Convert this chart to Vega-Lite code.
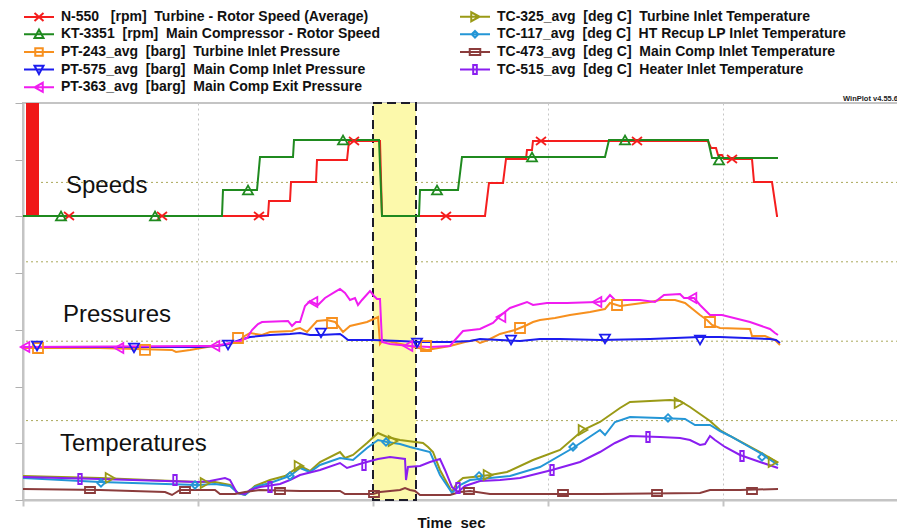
{
  "$schema": "https://vega.github.io/schema/vega-lite/v6.json",
  "width": 875,
  "height": 397,
  "autosize": {"type": "none"},
  "padding": {"left": 23, "top": 103, "right": 0, "bottom": 30},
  "background": "white",
  "config": {
    "view": {"stroke": "#c4c4c4", "strokeWidth": 2},
    "font": "Liberation Sans",
    "axis": {"labels": false}
  },
  "datasets": {
    "lines": [
      {"s":"N-550","t":0,"v":71.54},{"s":"N-550","t":980,"v":71.54},{"s":"N-550","t":984,"v":75.32},{"s":"N-550","t":1068,"v":75.32},{"s":"N-550","t":1072,"v":80.10},{"s":"N-550","t":1172,"v":80.10},{"s":"N-550","t":1176,"v":85.64},{"s":"N-550","t":1296,"v":85.64},{"s":"N-550","t":1304,"v":90.43},{"s":"N-550","t":1428,"v":90.43},{"s":"N-550","t":1436,"v":71.54},{"s":"N-550","t":1848,"v":71.54},{"s":"N-550","t":1864,"v":79.85},{"s":"N-550","t":1920,"v":79.85},{"s":"N-550","t":1932,"v":85.90},{"s":"N-550","t":2012,"v":85.90},{"s":"N-550","t":2016,"v":88.17},{"s":"N-550","t":2036,"v":88.17},{"s":"N-550","t":2040,"v":90.43},{"s":"N-550","t":2740,"v":90.43},{"s":"N-550","t":2752,"v":88.67},{"s":"N-550","t":2772,"v":88.67},{"s":"N-550","t":2780,"v":86.91},{"s":"N-550","t":2796,"v":86.91},{"s":"N-550","t":2804,"v":85.90},{"s":"N-550","t":2916,"v":85.90},{"s":"N-550","t":2924,"v":80.10},{"s":"N-550","t":2996,"v":80.10},{"s":"N-550","t":3016,"v":71.54},{"s":"N-550","t":3020,"v":71.54},
      {"s":"KT-3351","t":0,"v":71.54},{"s":"KT-3351","t":796,"v":71.54},{"s":"KT-3351","t":800,"v":78.09},{"s":"KT-3351","t":936,"v":78.09},{"s":"KT-3351","t":948,"v":86.40},{"s":"KT-3351","t":1080,"v":86.40},{"s":"KT-3351","t":1084,"v":90.68},{"s":"KT-3351","t":1424,"v":90.68},{"s":"KT-3351","t":1436,"v":71.54},{"s":"KT-3351","t":1584,"v":71.54},{"s":"KT-3351","t":1588,"v":78.09},{"s":"KT-3351","t":1740,"v":78.09},{"s":"KT-3351","t":1756,"v":86.40},{"s":"KT-3351","t":2328,"v":86.40},{"s":"KT-3351","t":2344,"v":90.68},{"s":"KT-3351","t":2740,"v":90.68},{"s":"KT-3351","t":2756,"v":86.15},{"s":"KT-3351","t":3020,"v":86.15},
      {"s":"PT-243","t":0,"v":38.29},{"s":"PT-243","t":308,"v":38.29},{"s":"PT-243","t":596,"v":37.79},{"s":"PT-243","t":612,"v":37.28},{"s":"PT-243","t":668,"v":37.79},{"s":"PT-243","t":760,"v":38.79},{"s":"PT-243","t":828,"v":39.30},{"s":"PT-243","t":868,"v":40.05},{"s":"PT-243","t":880,"v":41.06},{"s":"PT-243","t":908,"v":42.07},{"s":"PT-243","t":956,"v":41.56},{"s":"PT-243","t":988,"v":42.32},{"s":"PT-243","t":1076,"v":42.57},{"s":"PT-243","t":1092,"v":43.07},{"s":"PT-243","t":1108,"v":43.33},{"s":"PT-243","t":1136,"v":42.32},{"s":"PT-243","t":1176,"v":45.09},{"s":"PT-243","t":1216,"v":45.34},{"s":"PT-243","t":1248,"v":44.84},{"s":"PT-243","t":1280,"v":42.32},{"s":"PT-243","t":1308,"v":43.83},{"s":"PT-243","t":1376,"v":44.84},{"s":"PT-243","t":1420,"v":46.10},{"s":"PT-243","t":1428,"v":39.30},{"s":"PT-243","t":1440,"v":40.30},{"s":"PT-243","t":1548,"v":38.79},{"s":"PT-243","t":1616,"v":37.79},{"s":"PT-243","t":1708,"v":38.79},{"s":"PT-243","t":1768,"v":39.80},{"s":"PT-243","t":1808,"v":40.30},{"s":"PT-243","t":1828,"v":39.55},{"s":"PT-243","t":1860,"v":40.30},{"s":"PT-243","t":1908,"v":41.82},{"s":"PT-243","t":1968,"v":42.82},{"s":"PT-243","t":2016,"v":44.08},{"s":"PT-243","t":2040,"v":44.84},{"s":"PT-243","t":2068,"v":45.34},{"s":"PT-243","t":2128,"v":45.85},{"s":"PT-243","t":2188,"v":46.60},{"s":"PT-243","t":2268,"v":47.36},{"s":"PT-243","t":2328,"v":48.11},{"s":"PT-243","t":2348,"v":49.62},{"s":"PT-243","t":2388,"v":48.87},{"s":"PT-243","t":2448,"v":49.37},{"s":"PT-243","t":2508,"v":49.88},{"s":"PT-243","t":2548,"v":50.38},{"s":"PT-243","t":2608,"v":50.38},{"s":"PT-243","t":2648,"v":49.62},{"s":"PT-243","t":2708,"v":46.60},{"s":"PT-243","t":2736,"v":45.34},{"s":"PT-243","t":2756,"v":44.08},{"s":"PT-243","t":2788,"v":43.33},{"s":"PT-243","t":2908,"v":43.07},{"s":"PT-243","t":2916,"v":41.31},{"s":"PT-243","t":2968,"v":41.31},{"s":"PT-243","t":3008,"v":40.30},{"s":"PT-243","t":3028,"v":39.04},
      {"s":"PT-575","t":0,"v":38.54},{"s":"PT-575","t":308,"v":38.54},{"s":"PT-575","t":708,"v":38.54},{"s":"PT-575","t":768,"v":38.79},{"s":"PT-575","t":808,"v":39.04},{"s":"PT-575","t":868,"v":40.30},{"s":"PT-575","t":908,"v":41.06},{"s":"PT-575","t":988,"v":41.56},{"s":"PT-575","t":1068,"v":41.82},{"s":"PT-575","t":1108,"v":42.07},{"s":"PT-575","t":1148,"v":41.56},{"s":"PT-575","t":1188,"v":41.56},{"s":"PT-575","t":1268,"v":41.82},{"s":"PT-575","t":1280,"v":41.31},{"s":"PT-575","t":1300,"v":40.30},{"s":"PT-575","t":1400,"v":40.30},{"s":"PT-575","t":1508,"v":40.05},{"s":"PT-575","t":1588,"v":39.80},{"s":"PT-575","t":1708,"v":39.80},{"s":"PT-575","t":1788,"v":40.05},{"s":"PT-575","t":1828,"v":40.56},{"s":"PT-575","t":1908,"v":40.30},{"s":"PT-575","t":1988,"v":40.05},{"s":"PT-575","t":2068,"v":40.56},{"s":"PT-575","t":2148,"v":40.56},{"s":"PT-575","t":2308,"v":40.30},{"s":"PT-575","t":2508,"v":40.56},{"s":"PT-575","t":2708,"v":41.06},{"s":"PT-575","t":2788,"v":41.06},{"s":"PT-575","t":2988,"v":40.56},{"s":"PT-575","t":3012,"v":40.30},{"s":"PT-575","t":3028,"v":39.55},
      {"s":"PT-363","t":0,"v":38.54},{"s":"PT-363","t":708,"v":38.79},{"s":"PT-363","t":768,"v":38.79},{"s":"PT-363","t":868,"v":40.05},{"s":"PT-363","t":896,"v":40.81},{"s":"PT-363","t":916,"v":42.82},{"s":"PT-363","t":940,"v":44.33},{"s":"PT-363","t":956,"v":44.84},{"s":"PT-363","t":1060,"v":45.09},{"s":"PT-363","t":1076,"v":43.83},{"s":"PT-363","t":1092,"v":44.84},{"s":"PT-363","t":1108,"v":44.84},{"s":"PT-363","t":1128,"v":48.87},{"s":"PT-363","t":1148,"v":50.13},{"s":"PT-363","t":1180,"v":49.12},{"s":"PT-363","t":1208,"v":50.88},{"s":"PT-363","t":1248,"v":52.40},{"s":"PT-363","t":1268,"v":53.15},{"s":"PT-363","t":1288,"v":52.14},{"s":"PT-363","t":1308,"v":50.38},{"s":"PT-363","t":1328,"v":50.88},{"s":"PT-363","t":1340,"v":49.12},{"s":"PT-363","t":1356,"v":50.38},{"s":"PT-363","t":1388,"v":52.65},{"s":"PT-363","t":1404,"v":51.39},{"s":"PT-363","t":1416,"v":50.63},{"s":"PT-363","t":1428,"v":50.63},{"s":"PT-363","t":1436,"v":39.80},{"s":"PT-363","t":1468,"v":39.30},{"s":"PT-363","t":1548,"v":38.79},{"s":"PT-363","t":1628,"v":38.54},{"s":"PT-363","t":1708,"v":38.79},{"s":"PT-363","t":1728,"v":40.30},{"s":"PT-363","t":1760,"v":42.57},{"s":"PT-363","t":1828,"v":43.07},{"s":"PT-363","t":1880,"v":44.59},{"s":"PT-363","t":1908,"v":46.35},{"s":"PT-363","t":1948,"v":48.37},{"s":"PT-363","t":2016,"v":49.88},{"s":"PT-363","t":2040,"v":49.12},{"s":"PT-363","t":2096,"v":49.62},{"s":"PT-363","t":2176,"v":49.62},{"s":"PT-363","t":2296,"v":49.88},{"s":"PT-363","t":2328,"v":50.13},{"s":"PT-363","t":2348,"v":51.64},{"s":"PT-363","t":2368,"v":50.38},{"s":"PT-363","t":2468,"v":50.38},{"s":"PT-363","t":2528,"v":49.88},{"s":"PT-363","t":2564,"v":51.64},{"s":"PT-363","t":2628,"v":51.89},{"s":"PT-363","t":2644,"v":50.88},{"s":"PT-363","t":2684,"v":50.88},{"s":"PT-363","t":2708,"v":49.12},{"s":"PT-363","t":2748,"v":46.60},{"s":"PT-363","t":2796,"v":46.60},{"s":"PT-363","t":2908,"v":44.84},{"s":"PT-363","t":2988,"v":43.07},{"s":"PT-363","t":3008,"v":42.07},{"s":"PT-363","t":3020,"v":41.56},
      {"s":"TC-325","t":0,"v":6.05},{"s":"TC-325","t":308,"v":5.54},{"s":"TC-325","t":700,"v":4.53},{"s":"TC-325","t":768,"v":4.53},{"s":"TC-325","t":828,"v":3.78},{"s":"TC-325","t":860,"v":1.76},{"s":"TC-325","t":888,"v":1.26},{"s":"TC-325","t":928,"v":3.53},{"s":"TC-325","t":988,"v":5.04},{"s":"TC-325","t":1048,"v":6.05},{"s":"TC-325","t":1108,"v":8.56},{"s":"TC-325","t":1148,"v":7.31},{"s":"TC-325","t":1188,"v":9.57},{"s":"TC-325","t":1268,"v":12.09},{"s":"TC-325","t":1288,"v":10.58},{"s":"TC-325","t":1320,"v":11.34},{"s":"TC-325","t":1376,"v":14.36},{"s":"TC-325","t":1420,"v":16.88},{"s":"TC-325","t":1456,"v":15.87},{"s":"TC-325","t":1508,"v":15.11},{"s":"TC-325","t":1600,"v":14.36},{"s":"TC-325","t":1620,"v":13.35},{"s":"TC-325","t":1640,"v":12.09},{"s":"TC-325","t":1668,"v":7.56},{"s":"TC-325","t":1696,"v":4.28},{"s":"TC-325","t":1716,"v":2.02},{"s":"TC-325","t":1736,"v":4.28},{"s":"TC-325","t":1760,"v":5.54},{"s":"TC-325","t":1800,"v":5.79},{"s":"TC-325","t":1868,"v":6.30},{"s":"TC-325","t":1936,"v":7.05},{"s":"TC-325","t":2040,"v":10.08},{"s":"TC-325","t":2148,"v":12.60},{"s":"TC-325","t":2240,"v":17.63},{"s":"TC-325","t":2308,"v":19.65},{"s":"TC-325","t":2388,"v":23.17},{"s":"TC-325","t":2428,"v":24.69},{"s":"TC-325","t":2508,"v":24.94},{"s":"TC-325","t":2588,"v":25.19},{"s":"TC-325","t":2628,"v":24.94},{"s":"TC-325","t":2668,"v":23.43},{"s":"TC-325","t":2708,"v":21.66},{"s":"TC-325","t":2748,"v":19.90},{"s":"TC-325","t":2788,"v":17.63},{"s":"TC-325","t":2828,"v":16.12},{"s":"TC-325","t":2948,"v":12.09},{"s":"TC-325","t":2988,"v":10.58},{"s":"TC-325","t":3020,"v":9.32},
      {"s":"TC-117","t":0,"v":5.54},{"s":"TC-117","t":308,"v":4.53},{"s":"TC-117","t":700,"v":3.78},{"s":"TC-117","t":768,"v":4.03},{"s":"TC-117","t":828,"v":3.53},{"s":"TC-117","t":860,"v":1.76},{"s":"TC-117","t":888,"v":1.26},{"s":"TC-117","t":928,"v":3.27},{"s":"TC-117","t":988,"v":4.28},{"s":"TC-117","t":1068,"v":6.05},{"s":"TC-117","t":1108,"v":8.06},{"s":"TC-117","t":1148,"v":7.05},{"s":"TC-117","t":1188,"v":8.82},{"s":"TC-117","t":1268,"v":10.58},{"s":"TC-117","t":1320,"v":10.08},{"s":"TC-117","t":1376,"v":13.10},{"s":"TC-117","t":1420,"v":15.11},{"s":"TC-117","t":1456,"v":14.61},{"s":"TC-117","t":1508,"v":14.11},{"s":"TC-117","t":1548,"v":13.35},{"s":"TC-117","t":1628,"v":12.09},{"s":"TC-117","t":1668,"v":6.30},{"s":"TC-117","t":1716,"v":1.76},{"s":"TC-117","t":1748,"v":3.78},{"s":"TC-117","t":1788,"v":5.04},{"s":"TC-117","t":1828,"v":5.29},{"s":"TC-117","t":1948,"v":6.05},{"s":"TC-117","t":2068,"v":8.31},{"s":"TC-117","t":2200,"v":13.10},{"s":"TC-117","t":2308,"v":17.63},{"s":"TC-117","t":2328,"v":16.37},{"s":"TC-117","t":2368,"v":19.65},{"s":"TC-117","t":2428,"v":20.91},{"s":"TC-117","t":2548,"v":20.66},{"s":"TC-117","t":2648,"v":20.40},{"s":"TC-117","t":2688,"v":18.89},{"s":"TC-117","t":2748,"v":18.89},{"s":"TC-117","t":2788,"v":17.38},{"s":"TC-117","t":2828,"v":16.12},{"s":"TC-117","t":2948,"v":11.84},{"s":"TC-117","t":3020,"v":8.82},
      {"s":"TC-515","t":0,"v":5.79},{"s":"TC-515","t":308,"v":5.29},{"s":"TC-515","t":700,"v":4.53},{"s":"TC-515","t":748,"v":4.79},{"s":"TC-515","t":808,"v":5.54},{"s":"TC-515","t":828,"v":5.04},{"s":"TC-515","t":856,"v":1.76},{"s":"TC-515","t":888,"v":1.51},{"s":"TC-515","t":908,"v":2.52},{"s":"TC-515","t":948,"v":3.27},{"s":"TC-515","t":1028,"v":4.03},{"s":"TC-515","t":1068,"v":5.04},{"s":"TC-515","t":1108,"v":6.30},{"s":"TC-515","t":1188,"v":7.56},{"s":"TC-515","t":1268,"v":9.32},{"s":"TC-515","t":1296,"v":8.06},{"s":"TC-515","t":1360,"v":9.32},{"s":"TC-515","t":1420,"v":10.33},{"s":"TC-515","t":1468,"v":10.83},{"s":"TC-515","t":1528,"v":10.33},{"s":"TC-515","t":1532,"v":5.04},{"s":"TC-515","t":1540,"v":8.31},{"s":"TC-515","t":1588,"v":8.56},{"s":"TC-515","t":1628,"v":9.57},{"s":"TC-515","t":1668,"v":10.33},{"s":"TC-515","t":1688,"v":7.56},{"s":"TC-515","t":1716,"v":3.27},{"s":"TC-515","t":1740,"v":2.02},{"s":"TC-515","t":1768,"v":3.53},{"s":"TC-515","t":1828,"v":4.79},{"s":"TC-515","t":1908,"v":5.04},{"s":"TC-515","t":1988,"v":5.54},{"s":"TC-515","t":2116,"v":7.56},{"s":"TC-515","t":2228,"v":9.57},{"s":"TC-515","t":2308,"v":12.09},{"s":"TC-515","t":2368,"v":14.36},{"s":"TC-515","t":2428,"v":16.12},{"s":"TC-515","t":2548,"v":15.87},{"s":"TC-515","t":2628,"v":15.62},{"s":"TC-515","t":2668,"v":15.11},{"s":"TC-515","t":2708,"v":13.85},{"s":"TC-515","t":2728,"v":14.11},{"s":"TC-515","t":2748,"v":16.12},{"s":"TC-515","t":2768,"v":15.11},{"s":"TC-515","t":2808,"v":13.35},{"s":"TC-515","t":2868,"v":11.34},{"s":"TC-515","t":2948,"v":9.57},{"s":"TC-515","t":3020,"v":8.06},
      {"s":"TC-473","t":0,"v":2.77},{"s":"TC-473","t":308,"v":2.52},{"s":"TC-473","t":568,"v":2.02},{"s":"TC-473","t":596,"v":1.26},{"s":"TC-473","t":628,"v":2.52},{"s":"TC-473","t":768,"v":2.52},{"s":"TC-473","t":788,"v":1.51},{"s":"TC-473","t":848,"v":1.51},{"s":"TC-473","t":888,"v":2.02},{"s":"TC-473","t":948,"v":2.52},{"s":"TC-473","t":1108,"v":2.27},{"s":"TC-473","t":1268,"v":2.27},{"s":"TC-473","t":1288,"v":1.51},{"s":"TC-473","t":1400,"v":1.51},{"s":"TC-473","t":1428,"v":2.02},{"s":"TC-473","t":1508,"v":2.52},{"s":"TC-473","t":1528,"v":3.02},{"s":"TC-473","t":1548,"v":2.52},{"s":"TC-473","t":1568,"v":2.27},{"s":"TC-473","t":1588,"v":1.26},{"s":"TC-473","t":1708,"v":1.26},{"s":"TC-473","t":1748,"v":2.02},{"s":"TC-473","t":1788,"v":2.27},{"s":"TC-473","t":1868,"v":1.51},{"s":"TC-473","t":2308,"v":1.51},{"s":"TC-473","t":2708,"v":1.76},{"s":"TC-473","t":2748,"v":2.52},{"s":"TC-473","t":2868,"v":2.52},{"s":"TC-473","t":3020,"v":2.77}
    ],
    "marks": [
      {"s":"N-550","t":184,"v":71.54},{"s":"N-550","t":556,"v":71.54},{"s":"N-550","t":944,"v":71.54},{"s":"N-550","t":1324,"v":90.43},{"s":"N-550","t":1692,"v":71.54},{"s":"N-550","t":2072,"v":90.43},{"s":"N-550","t":2456,"v":90.43},{"s":"N-550","t":2836,"v":85.90},
      {"s":"KT-3351","t":152,"v":71.54},{"s":"KT-3351","t":528,"v":71.54},{"s":"KT-3351","t":900,"v":78.09},{"s":"KT-3351","t":1280,"v":90.68},{"s":"KT-3351","t":1656,"v":78.09},{"s":"KT-3351","t":2036,"v":86.40},{"s":"KT-3351","t":2408,"v":90.68},{"s":"KT-3351","t":2784,"v":85.64},
      {"s":"PT-243","t":60,"v":38.29},{"s":"PT-243","t":488,"v":37.79},{"s":"PT-243","t":860,"v":40.81},{"s":"PT-243","t":1236,"v":44.59},{"s":"PT-243","t":1612,"v":38.79},{"s":"PT-243","t":1988,"v":43.33},{"s":"PT-243","t":2376,"v":49.12},{"s":"PT-243","t":2748,"v":44.84},
      {"s":"PT-575","t":56,"v":38.79},{"s":"PT-575","t":444,"v":38.29},{"s":"PT-575","t":820,"v":39.04},{"s":"PT-575","t":1192,"v":42.07},{"s":"PT-575","t":1576,"v":39.55},{"s":"PT-575","t":1952,"v":40.30},{"s":"PT-575","t":2328,"v":40.56},{"s":"PT-575","t":2708,"v":40.30},
      {"s":"PT-363","t":8,"v":38.54},{"s":"PT-363","t":384,"v":38.29},{"s":"PT-363","t":768,"v":38.79},{"s":"PT-363","t":1160,"v":49.88},{"s":"PT-363","t":1540,"v":38.79},{"s":"PT-363","t":1912,"v":46.10},{"s":"PT-363","t":2296,"v":49.88},{"s":"PT-363","t":2676,"v":50.88},
      {"s":"TC-325","t":348,"v":5.54},{"s":"TC-325","t":728,"v":4.28},{"s":"TC-325","t":1104,"v":8.56},{"s":"TC-325","t":1480,"v":14.86},{"s":"TC-325","t":1860,"v":6.30},{"s":"TC-325","t":2240,"v":17.63},{"s":"TC-325","t":2624,"v":24.43},{"s":"TC-325","t":3000,"v":9.57},
      {"s":"TC-117","t":312,"v":4.28},{"s":"TC-117","t":688,"v":3.78},{"s":"TC-117","t":1068,"v":6.05},{"s":"TC-117","t":1452,"v":14.61},{"s":"TC-117","t":1824,"v":6.05},{"s":"TC-117","t":2200,"v":13.35},{"s":"TC-117","t":2580,"v":20.66},{"s":"TC-117","t":2956,"v":10.83},
      {"s":"TC-473","t":268,"v":2.52},{"s":"TC-473","t":648,"v":2.52},{"s":"TC-473","t":1028,"v":2.27},{"s":"TC-473","t":1404,"v":1.51},{"s":"TC-473","t":1784,"v":2.27},{"s":"TC-473","t":2160,"v":1.76},{"s":"TC-473","t":2536,"v":1.76},{"s":"TC-473","t":2916,"v":2.27},
      {"s":"TC-515","t":228,"v":5.29},{"s":"TC-515","t":608,"v":5.04},{"s":"TC-515","t":988,"v":3.27},{"s":"TC-515","t":1364,"v":8.82},{"s":"TC-515","t":1740,"v":3.02},{"s":"TC-515","t":2116,"v":7.56},{"s":"TC-515","t":2500,"v":15.87},{"s":"TC-515","t":2876,"v":11.08}
    ]
  },
  "resolve": {"scale": {"shape": "independent"}},
  "layer": [
    {
      "data": {"values": [{"g": 20}, {"g": 40}, {"g": 60}, {"g": 80}]},
      "mark": {"type": "rule", "stroke": "#aaa85a", "strokeDash": [2, 3], "strokeWidth": 1},
      "encoding": {
        "y": {"field": "g", "type": "quantitative", "scale": {"domain": [0, 100], "nice": false, "zero": false},
          "axis": {"values": [0, 14.2857, 28.5714, 42.8571, 57.1429, 71.4286, 85.7143, 100], "title": null, "grid": false, "domainColor": "#c4c4c4", "domainWidth": 2, "tickColor": "#b0b0b0", "tickSize": 8, "tickWidth": 1}}
      }
    },
    {
      "data": {"values": [{"t0": 1400, "t1": 1572}]},
      "mark": {"type": "rect", "fill": "#fcf9ab", "stroke": "#1c1c2a", "strokeWidth": 2, "strokeDash": [9, 5]},
      "encoding": {
        "x": {"field": "t0", "type": "quantitative", "scale": {"domain": [0, 3500], "nice": false, "zero": false},
          "axis": {"values": [0, 700, 1400, 2100, 2800], "title": "Time\u00a0 sec", "grid": true, "gridColor": "#c6c6c6", "gridDash": [2, 3], "gridWidth": 1, "domainColor": "#c4c4c4", "domainWidth": 2, "tickColor": "#c4c4c4", "tickSize": 6, "tickWidth": 2, "titleFont": "Liberation Sans", "titleFontSize": 15, "titleFontWeight": "bold", "titleColor": "#111", "titleX": 428, "titleY": 27, "titleAlign": "center", "titleBaseline": "alphabetic", "titleAnchor": null}},
        "x2": {"field": "t1"},
        "y": {"datum": 0},
        "y2": {"datum": 100}
      }
    },
    {
      "data": {"values": [{"t0": 12, "t1": 64, "v0": 71.54, "v1": 100}]},
      "mark": {"type": "rect", "fill": "#f01818"},
      "encoding": {
        "x": {"field": "t0", "type": "quantitative"},
        "x2": {"field": "t1"},
        "y": {"field": "v0", "type": "quantitative"},
        "y2": {"field": "v1"}
      }
    },
    {
      "data": {"name": "lines"},
      "mark": {"type": "line", "strokeWidth": 2, "interpolate": "linear"},
      "encoding": {
        "x": {"field": "t", "type": "quantitative"},
        "y": {"field": "v", "type": "quantitative"},
        "stroke": {"field": "s", "type": "nominal", "legend": null,
          "scale": {"domain": ["N-550", "KT-3351", "PT-243", "PT-575", "PT-363", "TC-325", "TC-117", "TC-473", "TC-515"],
            "range": ["#f51e1e", "#1f8a1f", "#f7901e", "#1c1cee", "#f01cf0", "#9a9a16", "#2496d6", "#8b3c3c", "#8a1ef0"]}}
      }
    },
    {
      "data": {"name": "marks"},
      "mark": {"type": "point", "filled": false, "size": 100, "strokeWidth": 1.8, "opacity": 1},
      "encoding": {
        "x": {"field": "t", "type": "quantitative"},
        "y": {"field": "v", "type": "quantitative"},
        "stroke": {"field": "s", "type": "nominal", "legend": null,
          "scale": {"domain": ["N-550", "KT-3351", "PT-243", "PT-575", "PT-363", "TC-325", "TC-117", "TC-473", "TC-515"],
            "range": ["#f51e1e", "#1f8a1f", "#f7901e", "#1c1cee", "#f01cf0", "#9a9a16", "#2496d6", "#8b3c3c", "#8a1ef0"]}},
        "shape": {"field": "s", "type": "nominal", "legend": null,
          "scale": {"domain": ["N-550", "KT-3351", "PT-243", "PT-575", "PT-363", "TC-325", "TC-117", "TC-473", "TC-515"],
            "range": ["M-1,-0.8L1,0.8M-1,0.8L1,-0.8", "triangle-up", "square", "triangle-down", "triangle-left", "triangle-right", "M0,-0.75L0.75,0L0,0.75L-0.75,0Z", "M-1,-0.6H1V0.6H-1Z", "M-0.35,-1H0.35V1H-0.35Z"]}}
      }
    },
    {
      "data": {"values": [
        {"label": "Speeds", "t": 172, "v": 77.3},
        {"label": "Pressures", "t": 160, "v": 44.8},
        {"label": "Temperatures", "t": 148, "v": 12.3}
      ]},
      "mark": {"type": "text", "align": "left", "baseline": "alphabetic", "fontSize": 24, "font": "Liberation Sans", "color": "#111"},
      "encoding": {
        "x": {"field": "t", "type": "quantitative"},
        "y": {"field": "v", "type": "quantitative"},
        "text": {"field": "label"}
      }
    },
    {
      "data": {"values": [{"label": "WinPlot v4.55.6", "t": 3500, "v": 100.5}]},
      "mark": {"type": "text", "align": "right", "baseline": "alphabetic", "fontSize": 7.5, "fontWeight": "bold", "font": "Liberation Sans", "color": "#222"},
      "encoding": {
        "x": {"field": "t", "type": "quantitative"},
        "y": {"field": "v", "type": "quantitative"},
        "text": {"field": "label"}
      }
    },
    {
      "data": {"name": "marks"},
      "transform": [{"filter": "datum.t < 0"}],
      "mark": {"type": "point", "filled": false, "size": 100, "strokeWidth": 2, "opacity": 1, "fill": "transparent", "stroke": {"expr": "scale('stroke', datum.value)"}},
      "encoding": {
        "shape": {"field": "s", "type": "nominal",
          "scale": {"domain": ["N-550", "KT-3351", "PT-243", "PT-575", "PT-363", "TC-325", "TC-117", "TC-473", "TC-515"],
            "range": [
              "M-3,0H3M-0.9,-0.8L0.9,0.8M-0.9,0.8L0.9,-0.8",
              "M-3,0H3M0,-0.9L0.9,0.75L-0.9,0.75Z",
              "M-3,0H3M-0.75,-0.75H0.75V0.75H-0.75Z",
              "M-3,0H3M0,0.9L0.9,-0.75L-0.9,-0.75Z",
              "M-3,0H3M-0.9,0L0.75,-0.9L0.75,0.9Z",
              "M-3,0H3M0.9,0L-0.75,-0.9L-0.75,0.9Z",
              "M-3,0H3M0,-0.66L0.66,0L0,0.66L-0.66,0Z",
              "M-3,0H3M-1.05,-0.6H1.05V0.6H-1.05Z",
              "M-3,0H3M-0.36,-0.9H0.36V0.9H-0.36Z"
            ]},
          "legend": {"orient": "none", "legendX": 9, "legendY": -93.5, "columns": 2, "columnPadding": 45, "rowPadding": -0.3, "gridAlign": "all", "padding": 0, "title": null,
            "symbolSize": 100, "symbolStrokeWidth": 2, "labelFont": "Liberation Sans", "labelFontSize": 14, "labelFontWeight": "bold", "labelColor": "#111", "labelOffset": 15, "labelLimit": 0,
            "labelExpr": "datum.label == 'N-550' ? 'N-550\u00a0\u00a0 [rpm]\u00a0 Turbine - Rotor Speed (Average)' : datum.label == 'KT-3351' ? 'KT-3351\u00a0 [rpm]\u00a0 Main Compressor - Rotor Speed' : datum.label == 'PT-243' ? 'PT-243_avg\u00a0 [barg]\u00a0 Turbine Inlet Pressure' : datum.label == 'PT-575' ? 'PT-575_avg\u00a0 [barg]\u00a0 Main Comp Inlet Pressure' : datum.label == 'PT-363' ? 'PT-363_avg\u00a0 [barg]\u00a0 Main Comp Exit Pressure' : datum.label == 'TC-325' ? 'TC-325_avg\u00a0 [deg C]\u00a0 Turbine Inlet Temperature' : datum.label == 'TC-117' ? 'TC-117_avg\u00a0 [deg C]\u00a0 HT Recup LP Inlet Temperature' : datum.label == 'TC-473' ? 'TC-473_avg\u00a0 [deg C]\u00a0 Main Comp Inlet Temperature' : 'TC-515_avg\u00a0 [deg C]\u00a0 Heater Inlet Temperature'"}}
      }
    }
  ]
}
